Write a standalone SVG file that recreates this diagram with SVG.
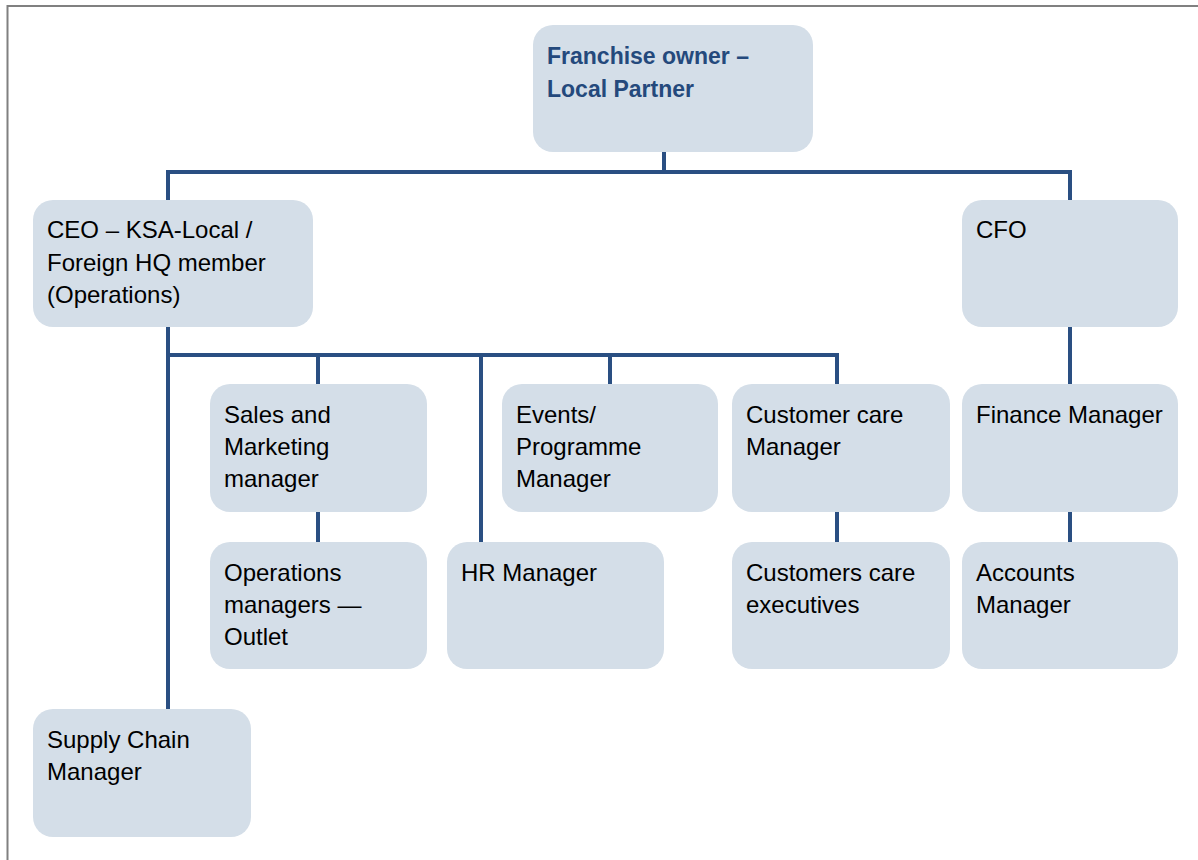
<svg xmlns="http://www.w3.org/2000/svg" width="1198" height="860" viewBox="0 0 1198 860">
<style>
.box{fill:#D4DEE8;}
.t{font-family:"Liberation Sans",Arial,sans-serif;font-size:24px;fill:#000;}
.tb{font-family:"Liberation Sans",Arial,sans-serif;font-size:23px;font-weight:bold;fill:#24497C;}
.c{fill:none;stroke:#2A4F82;stroke-width:4;stroke-linejoin:miter;stroke-linecap:butt;}
</style>
<rect width="1198" height="860" fill="#fff"/>
<path d="M7.5 860 V6 H1198" fill="none" stroke="#808080" stroke-width="2"/>
<g id="connectors">
<path class="c" d="M664 152 V172"/>
<path class="c" d="M168 200 V172 H1070 V200"/>
<path class="c" d="M168 327 V709"/>
<path class="c" d="M168 355 H837 V384"/>
<path class="c" d="M318 355 V384"/>
<path class="c" d="M481 355 V542"/>
<path class="c" d="M610 355 V384"/>
<path class="c" d="M318 512 V542"/>
<path class="c" d="M837 512 V542"/>
<path class="c" d="M1070 327 V384"/>
<path class="c" d="M1070 512 V542"/>
</g>
<g id="n-franchise">
<rect class="box" x="533" y="25" width="280" height="127" rx="20"/>
<text class="tb" x="547" y="64">Franchise owner –</text>
<text class="tb" x="547" y="97">Local Partner</text>
</g>
<g id="n-ceo">
<rect class="box" x="33" y="200" width="280" height="127" rx="20"/>
<text class="t" x="47" y="238">CEO – KSA-Local /</text>
<text class="t" x="47" y="271">Foreign HQ member</text>
<text class="t" x="47" y="303">(Operations)</text>
</g>
<g id="n-cfo">
<rect class="box" x="962" y="200" width="216" height="127" rx="20"/>
<text class="t" x="976" y="238">CFO</text>
</g>
<g id="n-sales">
<rect class="box" x="210" y="384" width="217" height="128" rx="20"/>
<text class="t" x="224" y="423">Sales and</text>
<text class="t" x="224" y="455">Marketing</text>
<text class="t" x="224" y="487">manager</text>
</g>
<g id="n-events">
<rect class="box" x="502" y="384" width="216" height="128" rx="20"/>
<text class="t" x="516" y="423">Events/</text>
<text class="t" x="516" y="455">Programme</text>
<text class="t" x="516" y="487">Manager</text>
</g>
<g id="n-customer">
<rect class="box" x="732" y="384" width="218" height="128" rx="20"/>
<text class="t" x="746" y="423">Customer care</text>
<text class="t" x="746" y="455">Manager</text>
</g>
<g id="n-finance">
<rect class="box" x="962" y="384" width="216" height="128" rx="20"/>
<text class="t" x="976" y="423">Finance Manager</text>
</g>
<g id="n-operations">
<rect class="box" x="210" y="542" width="217" height="127" rx="20"/>
<text class="t" x="224" y="581">Operations</text>
<text class="t" x="224" y="613">managers —</text>
<text class="t" x="224" y="645">Outlet</text>
</g>
<g id="n-hr">
<rect class="box" x="447" y="542" width="217" height="127" rx="20"/>
<text class="t" x="461" y="581">HR Manager</text>
</g>
<g id="n-cce">
<rect class="box" x="732" y="542" width="218" height="127" rx="20"/>
<text class="t" x="746" y="581">Customers care</text>
<text class="t" x="746" y="613">executives</text>
</g>
<g id="n-accounts">
<rect class="box" x="962" y="542" width="216" height="127" rx="20"/>
<text class="t" x="976" y="581">Accounts</text>
<text class="t" x="976" y="613">Manager</text>
</g>
<g id="n-supply">
<rect class="box" x="33" y="709" width="218" height="128" rx="20"/>
<text class="t" x="47" y="748">Supply Chain</text>
<text class="t" x="47" y="780">Manager</text>
</g>
</svg>
